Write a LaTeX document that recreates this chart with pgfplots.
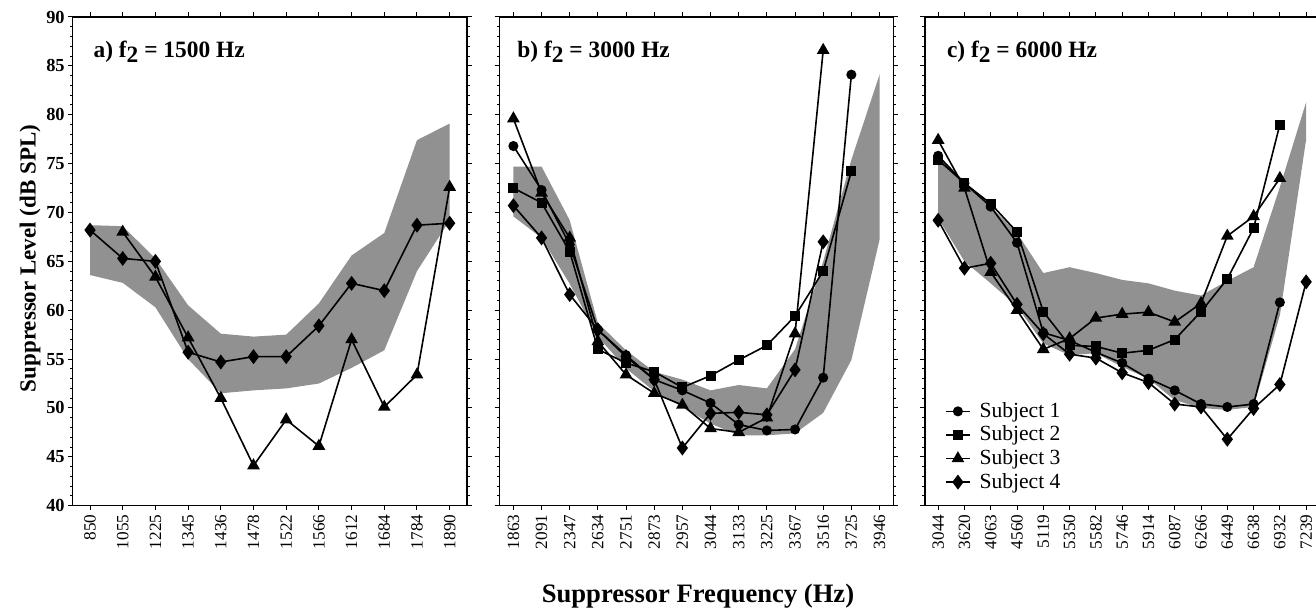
\documentclass[border=0pt]{standalone}
\usepackage{fontspec}
\setmainfont{Liberation Serif}
\usepackage{pgfplots}
\pgfplotsset{compat=1.18}
\definecolor{band}{gray}{0.57}
\pgfplotsset{
  panel/.style={
    scale only axis, width=197.15pt, height=244.35pt,
    ymin=40, ymax=90, ytick={40,45,...,90}, minor y tick num=4,
    tick align=outside, major tick length=2.3pt, minor tick length=1.4pt,
    xticklabel style={rotate=90, anchor=east, font=\fontsize{8.6}{9}\selectfont, inner sep=2pt},
    yticklabel style={font=\fontsize{9.2}{10}\selectfont\bfseries, inner sep=1.5pt},
    /pgf/number format/assume math mode=true,
    axis line style={line width=0.7pt},
    tick style={line width=0.5pt, black},
    every axis plot/.append style={line width=0.8pt, black},
  },
  s1/.style={mark=*, mark size=2.1pt},
  s2/.style={mark=square*, mark size=2.1pt},
  s3/.style={mark=triangle*, mark size=2.9pt},
  s4/.style={mark=diamond*, mark size=3.1pt},
}
\tikzset{ttl/.style={anchor=base west, inner sep=0pt, font=\fontsize{11.7}{12}\selectfont\bfseries}}
\begin{document}
\begin{tikzpicture}
% ---------------- panel a ----------------
\begin{axis}[panel, at={(0pt,0pt)},
  xmin=-0.53, xmax=11.53,
  xtick={0,...,11},
  xticklabels={850,1055,1225,1345,1436,1478,1522,1566,1612,1684,1784,1890},
  ylabel={Suppressor Level (dB SPL)},
  ylabel style={at={(axis description cs:-0.108,0.506)}, anchor=center, font=\fontsize{11.5}{12}\selectfont\bfseries},
]
\addplot[fill=band, draw=none, forget plot] coordinates {
 (0,68.7) (1,68.6) (2,65.3) (3,60.5) (4,57.6) (5,57.3) (6,57.5) (7,60.7) (8,65.6) (9,67.9) (10,77.4) (11,79.1)
 (11,69.2) (10,64.0) (9,55.9) (8,54.1) (7,52.5) (6,52.0) (5,51.8) (4,51.5) (3,55.0) (2,60.3) (1,62.8) (0,63.6)};
\addplot[s3] coordinates {(1,68.0) (2,63.4) (3,57.2) (4,51.0) (5,44.1) (6,48.8) (7,46.1) (8,57.0) (9,50.1) (10,53.4) (11,72.6)};
\addplot[s4] coordinates {(0,68.2) (1,65.3) (2,65.0) (3,55.7) (4,54.7) (5,55.25) (6,55.25) (7,58.4) (8,62.75) (9,62.0) (10,68.7) (11,68.9)};
\node[ttl] at (rel axis cs:0.052,0.918) {a) f\raisebox{-0.5ex}{2} = 1500 Hz};
\end{axis}
% ---------------- panel b ----------------
\begin{axis}[panel, at={(213.3pt,0pt)},
  xmin=-0.5, xmax=13.5,
  xtick={0,...,13},
  xticklabels={1863,2091,2347,2634,2751,2873,2957,3044,3133,3225,3367,3516,3725,3946},
  yticklabels={},
  xlabel={Suppressor Frequency (Hz)},
  xlabel style={at={(axis description cs:0.504,-0.199)}, anchor=base, font=\fontsize{13.3}{14}\selectfont\bfseries},
]
\addplot[fill=band, draw=none, forget plot] coordinates {
 (0,74.7) (1,74.7) (2,69.2) (3,58.7) (4,55.9) (5,53.7) (6,52.9) (7,51.8) (8,52.35) (9,52.0) (10,56.0) (11,65.0) (12,75.4) (13,84.1)
 (13,67.2) (12,54.9) (11,49.5) (10,47.4) (9,47.2) (8,47.2) (7,48.4) (6,50.1) (5,51.7) (4,54.05) (3,57.3) (2,62.7) (1,67.4) (0,69.6)};
\addplot[s1] coordinates {(0,76.8) (1,72.3) (2,66.7) (3,58.0) (4,55.4) (5,52.9) (6,51.8) (7,50.5) (8,48.3) (9,47.7) (10,47.8) (11,53.1) (12,84.1)};
\addplot[s2] coordinates {(0,72.5) (1,71.0) (2,66.0) (3,56.0) (4,54.6) (5,53.7) (6,52.1) (7,53.3) (8,54.9) (9,56.4) (10,59.4) (11,64.0) (12,74.2)};
\addplot[s3] coordinates {(0,79.6) (1,72.0) (2,67.4) (3,56.8) (4,53.4) (5,51.5) (6,50.3) (7,47.9) (8,47.5) (9,49.0) (10,57.6) (11,86.6)};
\addplot[s4] coordinates {(0,70.7) (1,67.4) (2,61.6) (3,58.0) (4,55.25) (5,52.9) (6,45.9) (7,49.45) (8,49.55) (9,49.3) (10,53.9) (11,67.0)};
\node[ttl] at (rel axis cs:0.045,0.918) {b) f\raisebox{-0.5ex}{2} = 3000 Hz};
\end{axis}
% ---------------- panel c ----------------
\begin{axis}[panel, at={(426.15pt,0pt)},
  xmin=-0.5, xmax=14.5,
  xtick={0,...,14},
  xticklabels={3044,3620,4063,4560,5119,5350,5582,5746,5914,6087,6266,6449,6638,6932,7239},
  yticklabels={},
  legend style={draw=none, fill=none, inner sep=0pt, at={(rel axis cs:0.05,0.218)}, anchor=north west,
    font=\fontsize{10.8}{11}\selectfont, nodes={inner sep=1.4pt}, row sep=0pt, column sep=3pt},
  legend cell align=left,
  legend image code/.code={\draw[mark repeat=2,mark phase=2] plot coordinates {(0pt,0pt) (6pt,0pt) (12pt,0pt)};},
]
\addplot[fill=band, draw=none, forget plot] coordinates {
 (0,75.7) (1,73.2) (2,70.6) (3,67.9) (4,63.8) (5,64.4) (6,63.8) (7,63.1) (8,62.75) (9,62.0) (10,61.5) (11,63.0) (12,64.4) (13,72.6) (14,81.3)
 (14,77.5) (13,59.5) (12,50.1) (11,49.8) (10,50.0) (9,50.8) (8,53.0) (7,54.2) (6,55.6) (5,55.4) (4,56.6) (3,60.4) (2,62.75) (1,65.0) (0,69.4)};
\addplot[s1] coordinates {(0,75.8) (1,73.0) (2,70.6) (3,66.9) (4,57.7) (5,56.9) (6,55.7) (7,54.6) (8,53.0) (9,51.8) (10,50.4) (11,50.1) (12,50.4) (13,60.8)};
\addlegendentry{Subject 1}
\addplot[s2] coordinates {(0,75.4) (1,73.0) (2,70.9) (3,68.0) (4,59.85) (5,56.4) (6,56.3) (7,55.6) (8,55.9) (9,57.0) (10,59.85) (11,63.2) (12,68.4) (13,79.0)};
\addlegendentry{Subject 2}
\addplot[s3] coordinates {(0,77.4) (1,72.5) (2,63.9) (3,60.0) (4,56.0) (5,57.1) (6,59.2) (7,59.6) (8,59.8) (9,58.8) (10,60.7) (11,67.6) (12,69.6) (13,73.5)};
\addlegendentry{Subject 3}
\addplot[s4] coordinates {(0,69.2) (1,64.3) (2,64.8) (3,60.6) (4,57.6) (5,55.5) (6,55.1) (7,53.6) (8,52.6) (9,50.4) (10,50.1) (11,46.8) (12,49.95) (13,52.4) (14,62.9)};
\addlegendentry{Subject 4}
\node[ttl] at (rel axis cs:0.055,0.918) {c) f\raisebox{-0.5ex}{2} = 6000 Hz};
\end{axis}
\pgfresetboundingbox
\useasboundingbox (-36.35pt,-51.65pt) rectangle (621.65pt,252.85pt);
\end{tikzpicture}
\end{document}
